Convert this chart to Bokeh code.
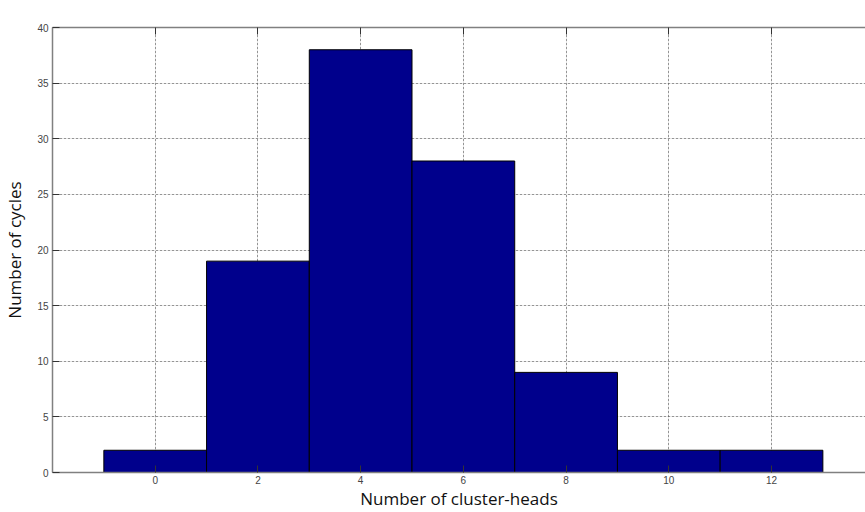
from bokeh.plotting import figure
from bokeh.models import LinearAxis, Range1d, FixedTicker, ColumnDataSource, Grid
from bokeh.embed import file_html
from bokeh.resources import INLINE

# Data
bin_centers = [0, 2, 4, 6, 8, 10, 12]
bin_counts = [2, 19, 38, 28, 9, 2, 2]
bin_width = 2
x_ticks = [0, 2, 4, 6, 8, 10, 12]
y_ticks = [0, 5, 10, 15, 20, 25, 30, 35, 40]

src = ColumnDataSource(dict(
    left=[c - bin_width / 2 for c in bin_centers],
    right=[c + bin_width / 2 for c in bin_centers],
    top=bin_counts,
    bottom=[0] * len(bin_counts),
))

p = figure(width=865, height=512, output_backend="svg", toolbar_location=None,
           x_range=Range1d(-2, 13.83), y_range=Range1d(0, 40),
           x_axis_location=None, y_axis_location=None,
           min_border_left=52, min_border_right=0, min_border_top=27, min_border_bottom=40)
p.outline_line_color = None
p.background_fill_color = "white"
p.border_fill_color = "white"

p.quad(left="left", right="right", top="top", bottom="bottom", source=src,
       fill_color="#00008C", line_color="#000000", line_width=1)

tick_font = "Liberation Sans"

def style_axis(ax, show_labels=True):
    ax.axis_line_color = "#808080"
    ax.axis_line_width = 1.5
    ax.major_tick_line_color = "#333333"
    ax.major_tick_in = 7
    ax.major_tick_out = 0
    ax.minor_tick_in = 0
    ax.minor_tick_out = 0
    ax.major_label_text_font = tick_font
    ax.major_label_text_font_size = "10px"
    ax.major_label_text_color = "#444444"
    if not show_labels:
        ax.major_label_text_font_size = "0px"
        ax.major_label_text_color = None

xb = LinearAxis(ticker=FixedTicker(ticks=x_ticks), axis_label="Number of cluster-heads")
style_axis(xb)
xb.major_label_standoff = 3
xb.axis_label_standoff = 0
xb.axis_label_text_font = "Open Sans"
xb.axis_label_text_font_style = "normal"
xb.axis_label_text_font_size = "17px"
xb.axis_label_text_color = "#111111"
p.add_layout(xb, "below")

yl = LinearAxis(ticker=FixedTicker(ticks=y_ticks), axis_label="Number of cycles")
style_axis(yl)
yl.major_label_standoff = 4
yl.axis_label_standoff = 8
yl.axis_label_text_font = "Open Sans"
yl.axis_label_text_font_style = "normal"
yl.axis_label_text_font_size = "17px"
yl.axis_label_text_color = "#111111"
p.add_layout(yl, "left")

xt = LinearAxis(ticker=FixedTicker(ticks=x_ticks))
style_axis(xt, show_labels=False)
xt.major_label_standoff = 0
p.add_layout(xt, "above")

xg = Grid(dimension=0, ticker=FixedTicker(ticks=x_ticks[:]))
yg = Grid(dimension=1, ticker=FixedTicker(ticks=y_ticks[1:-1]))
for g in (xg, yg):
    g.grid_line_color = "#444444"
    g.grid_line_dash = "1 3"
    g.grid_line_width = 1
    p.add_layout(g)

open("out.html", "w").write(file_html(p, INLINE))
